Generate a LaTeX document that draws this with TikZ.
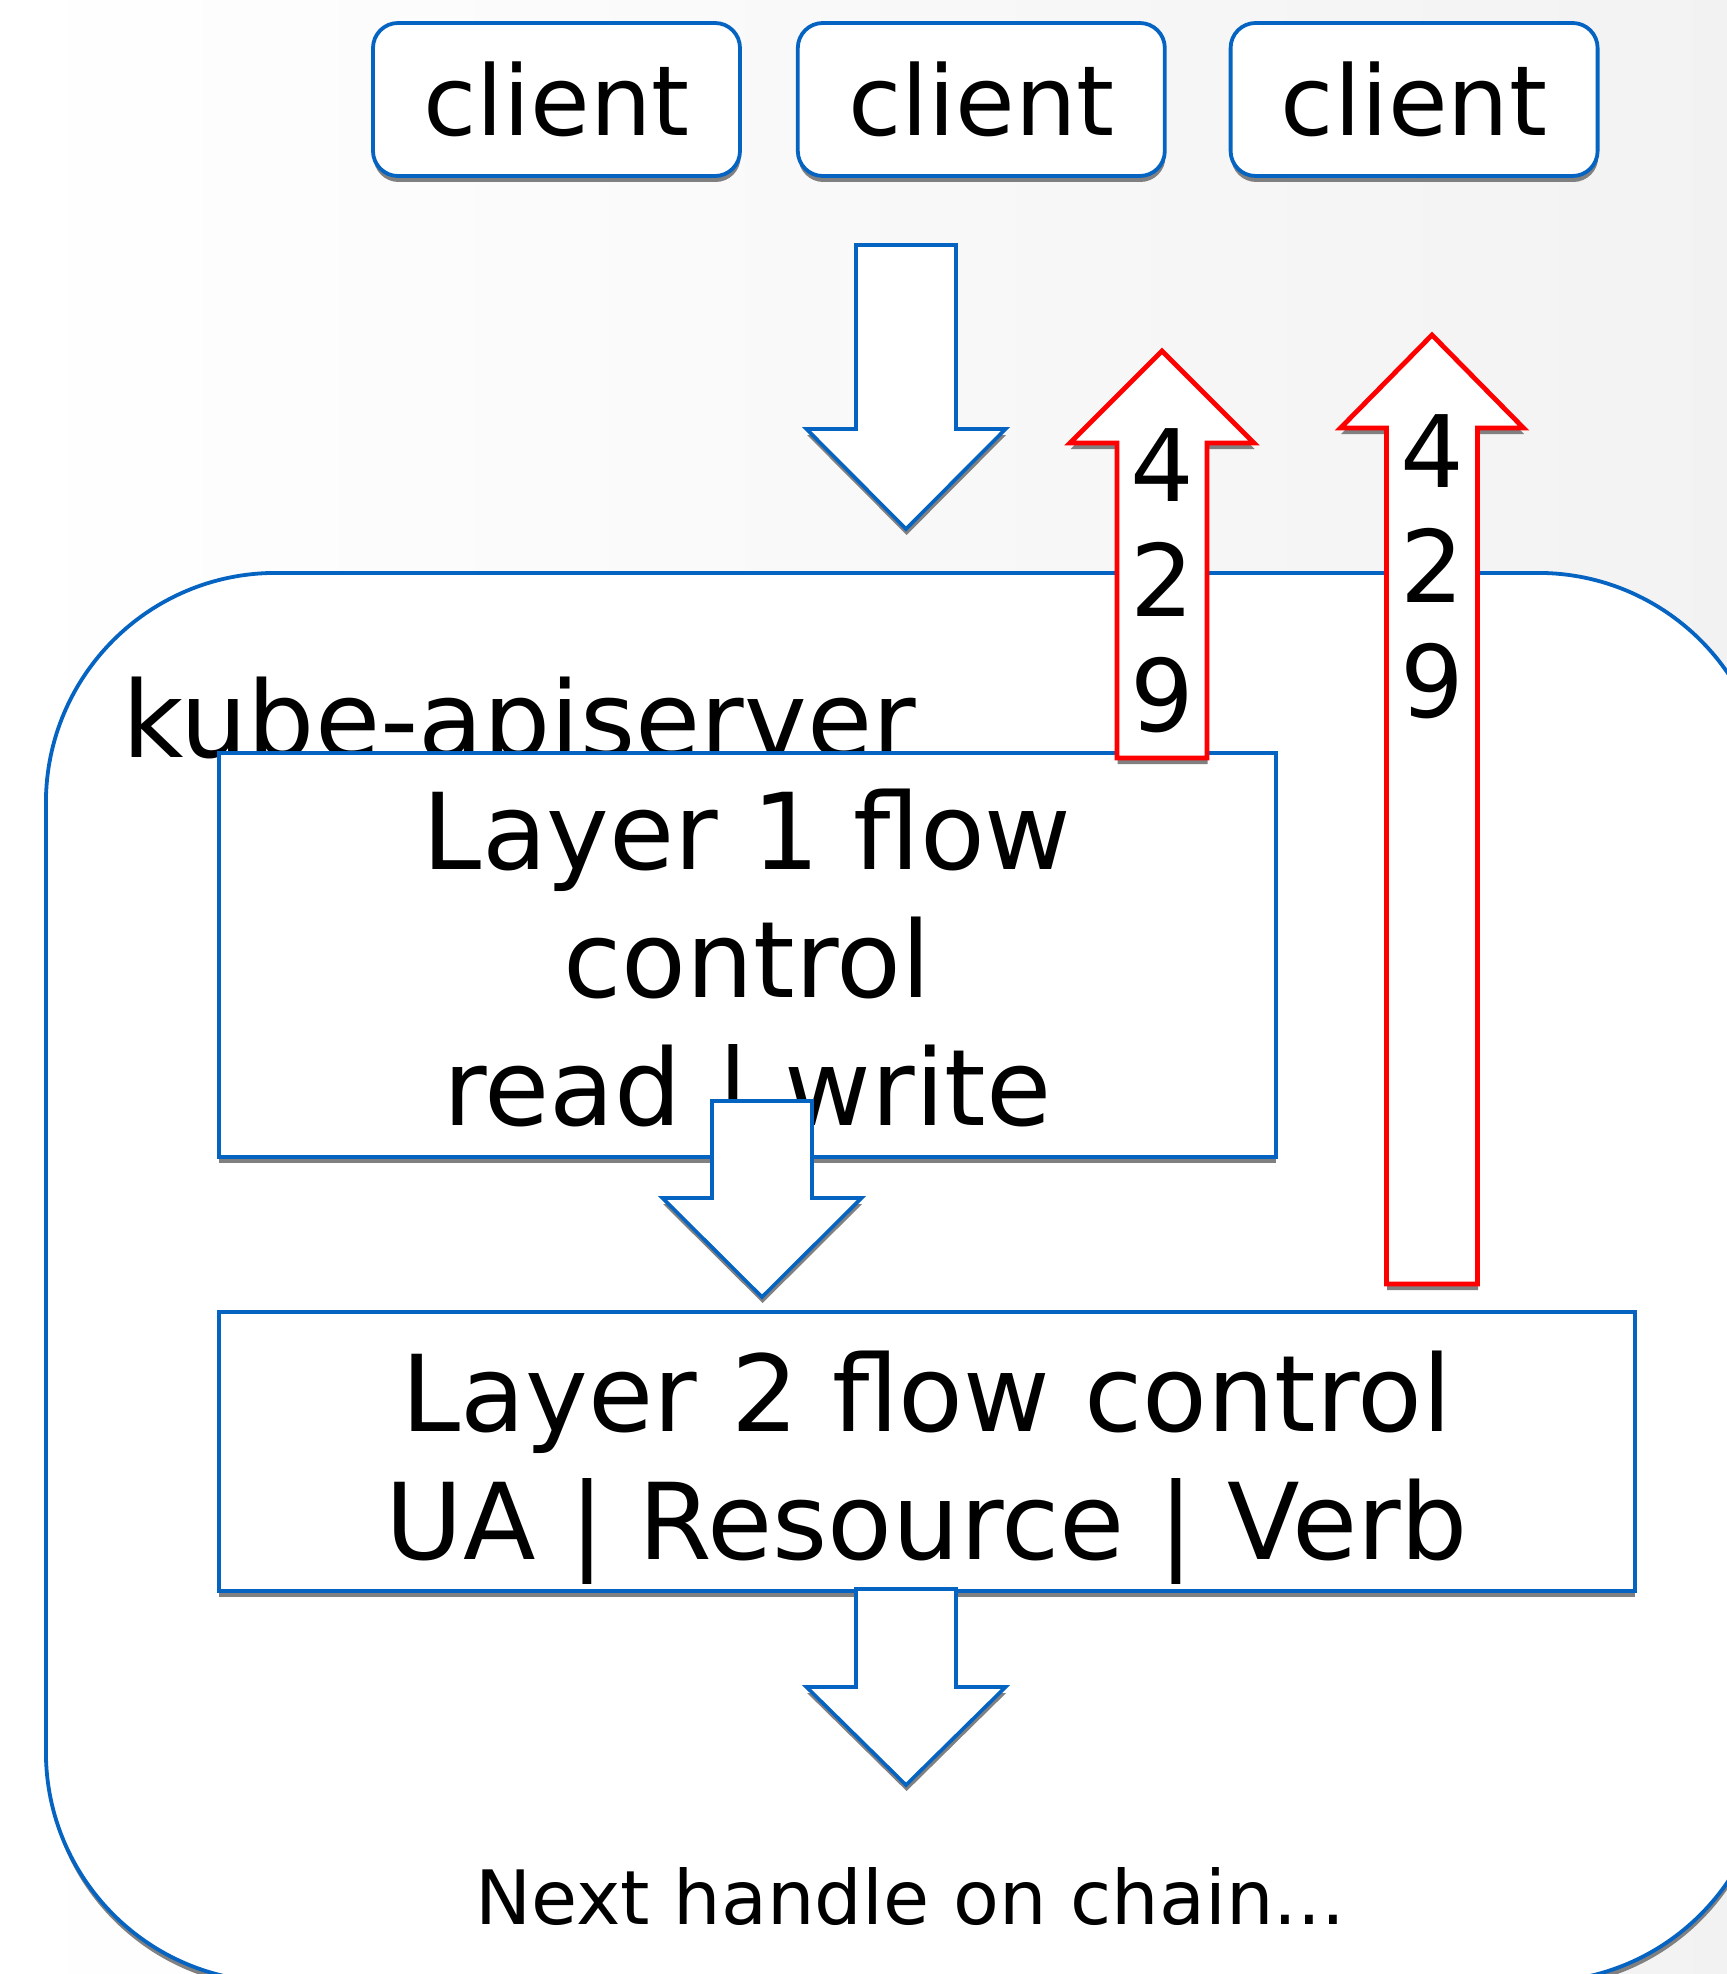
\documentclass[tikz,border=0pt]{standalone}
\usepackage{fontspec}
\setmainfont{DejaVu Sans}
\usepackage{tikz}
\usetikzlibrary{positioning, shadows}
\usepackage{xcolor}
\definecolor{officeblue}{HTML}{0563C1}
\definecolor{officered}{HTML}{FF0000}

\begin{document}
\begin{tikzpicture}[x=0.5pt, y=-0.5pt]
        \tikzstyle{shade}=[drop shadow={shadow xshift=0.3pt, shadow yshift=-3pt, fill=gray, opacity=1}]
        \tikzstyle{client}=[draw=officeblue, fill=white, rounded corners=12.5pt, line width=1.9pt, minimum width=183.5pt, minimum height=76.5pt, inner sep=0pt, font=\fontsize{48.5pt}{58pt}\selectfont, shade]
        \tikzstyle{layer}=[draw=officeblue, fill=white, line width=1.8pt, inner sep=0pt, anchor=north west, shade]
        \tikzstyle{bigtext}=[inner sep=0pt, align=center, font=\fontsize{53pt}{64pt}\selectfont]
        \tikzstyle{code}=[inner sep=0pt, align=center, anchor=north, font=\fontsize{50pt}{57.5pt}\selectfont]
        \tikzstyle{bluearrow}=[draw=officeblue, fill=white, line width=1.8pt, shade]
        \tikzstyle{redarrow}=[draw=officered, fill=white, line width=2.4pt, shade]

        \useasboundingbox (0,0) rectangle (1727,1974);
        \clip (0,0) rectangle (1727,1974);
        \fill[left color=white, right color=gray!10] (0,0) rectangle (1727,1974);

        %\draw[thin, red] (0,571) -- (1727,571);
        \node[draw=officeblue, fill=white, line width=1.9pt, rounded corners=115pt, minimum width=861pt, minimum height=704.5pt, anchor=north west, shade] (apiserver) at (44,571) {};
        \node[inner sep=0pt, anchor=base west, font=\fontsize{53pt}{64pt}\selectfont] (apiname) at (122,757) {kube-apiserver};

        \node[layer, minimum width=528.5pt, minimum height=202pt] (layer1) at (217,751) {};
        \node[bigtext, below=19pt of layer1.north] (layer1text) {Layer 1 flow\\control\\read | write};
        \node[layer, minimum width=708pt, minimum height=139.5pt] (layer2) at (217,1310) {};
        \node[bigtext, below=20.5pt of layer2.north] (layer2text) {Layer 2 flow control\\UA | Resource | Verb};

        \node[client] (client1) at (556.5,99.5) {client};
        \node[client, right = 27pt of client1] (client2) {client};
        \node[client, right = 31pt of client2] (client3) {client};

        \coordinate (down1) at (906,245);
        \coordinate (down2) at (762,1101);
        \coordinate (down3) at (906,1589);
        \draw[bluearrow] ([xshift=-25pt]down1) -- ++(100,0) -- ++(0,184) -- ++(49.5,0) -- ++(-99.5,100) -- ++(-99.5,-100) -- ++(49.5,0) -- cycle;
        \draw[bluearrow] ([xshift=-25pt]down2) -- ++(100,0) -- ++(0,97) -- ++(49.5,0) -- ++(-99.5,99) -- ++(-99.5,-99) -- ++(49.5,0) -- cycle;
        \draw[bluearrow] ([xshift=-25pt]down3) -- ++(100,0) -- ++(0,98) -- ++(49.5,0) -- ++(-99.5,98) -- ++(-99.5,-98) -- ++(49.5,0) -- cycle;

        \coordinate (up1) at (1162,758);
        \coordinate (up2) at (1432,1284);
        \draw[redarrow] ([xshift=-22.5pt]up1) -- ++(0,-315) -- ++(-47,0) -- ++(92,-92) -- ++(92,92) -- ++(-47,0) -- ++(0,315) -- cycle;
        \draw[redarrow] ([xshift=-22.75pt]up2) -- ++(0,-856) -- ++(-46,0) -- ++(91.5,-93) -- ++(91.5,93) -- ++(-46,0) -- ++(0,856) -- cycle;
        \node[code] (code1) at (1162,428) {4\\2\\9};
        \node[code] (code2) at (1432,414) {4\\2\\9};

        \node[inner sep=0pt, anchor=base, font=\fontsize{37.5pt}{45pt}\selectfont] (next) at (910,1924) {Next handle on chain...};
    \end{tikzpicture}
\end{document}
